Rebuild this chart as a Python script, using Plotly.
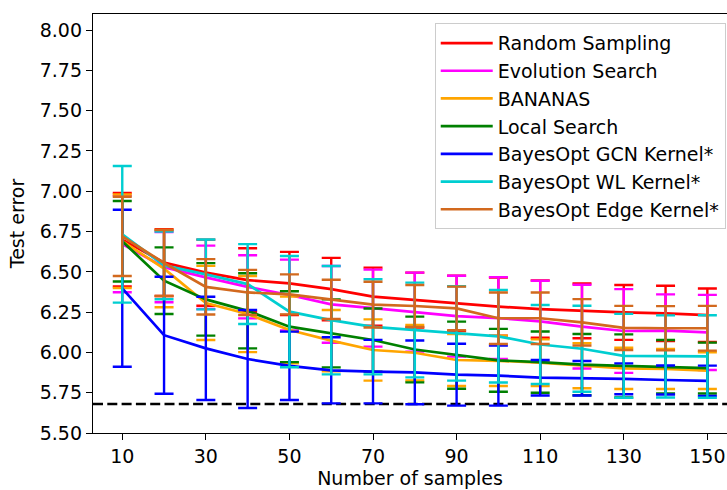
import plotly.graph_objects as go

# Number of samples evaluated
samples = [10, 20, 30, 40, 50, 60, 70, 80, 90, 100, 110, 120, 130, 140, 150]

# Mean test error and one-std error per method
random_mean = [6.700, 6.557, 6.495, 6.449, 6.428, 6.393, 6.346, 6.325, 6.304, 6.284, 6.269, 6.258, 6.248, 6.242, 6.231]
random_std = [0.290, 0.207, 0.205, 0.197, 0.196, 0.194, 0.180, 0.170, 0.172, 0.180, 0.178, 0.170, 0.170, 0.172, 0.166]

evolution_mean = [6.673, 6.529, 6.466, 6.407, 6.356, 6.298, 6.275, 6.250, 6.225, 6.213, 6.193, 6.160, 6.133, 6.135, 6.124]
evolution_std = [0.300, 0.218, 0.197, 0.196, 0.220, 0.238, 0.239, 0.245, 0.251, 0.254, 0.252, 0.260, 0.260, 0.225, 0.233]

bananas_mean = [6.690, 6.520, 6.307, 6.238, 6.139, 6.073, 6.015, 5.998, 5.953, 5.948, 5.936, 5.918, 5.901, 5.897, 5.887]
bananas_std = [0.290, 0.240, 0.230, 0.236, 0.207, 0.190, 0.190, 0.172, 0.161, 0.156, 0.145, 0.140, 0.128, 0.124, 0.114]

local_mean = [6.690, 6.445, 6.329, 6.258, 6.160, 6.118, 6.077, 6.018, 5.983, 5.951, 5.940, 5.924, 5.916, 5.911, 5.903]
local_std = [0.250, 0.207, 0.225, 0.233, 0.220, 0.211, 0.196, 0.204, 0.208, 0.195, 0.190, 0.190, 0.196, 0.166, 0.158]

gcn_mean = [6.398, 6.107, 6.025, 5.959, 5.917, 5.889, 5.881, 5.876, 5.862, 5.856, 5.843, 5.840, 5.836, 5.829, 5.824]
gcn_std = [0.487, 0.363, 0.320, 0.304, 0.212, 0.205, 0.197, 0.198, 0.192, 0.186, 0.110, 0.107, 0.096, 0.090, 0.094]

wl_mean = [6.733, 6.540, 6.484, 6.424, 6.253, 6.200, 6.159, 6.139, 6.118, 6.100, 6.049, 6.023, 5.979, 5.975, 5.975]
wl_std = [0.424, 0.210, 0.217, 0.248, 0.345, 0.336, 0.295, 0.294, 0.293, 0.287, 0.245, 0.267, 0.260, 0.255, 0.256]

edge_mean = [6.720, 6.555, 6.407, 6.372, 6.360, 6.329, 6.297, 6.288, 6.273, 6.212, 6.212, 6.187, 6.152, 6.150, 6.150]
edge_std = [0.246, 0.205, 0.172, 0.140, 0.124, 0.122, 0.142, 0.130, 0.135, 0.160, 0.160, 0.144, 0.137, 0.137, 0.139]

# Best achievable test error in the search space
optimum = 5.68

methods = [
    ("Random Sampling", random_mean, random_std, "#ff0000"),
    ("Evolution Search", evolution_mean, evolution_std, "#ff00ff"),
    ("BANANAS", bananas_mean, bananas_std, "#ffa500"),
    ("Local Search", local_mean, local_std, "#008000"),
    ("BayesOpt GCN Kernel*", gcn_mean, gcn_std, "#0000ff"),
    ("BayesOpt WL Kernel*", wl_mean, wl_std, "#00ced1"),
    ("BayesOpt Edge Kernel*", edge_mean, edge_std, "#d2691e"),
]

y_ticks = [5.5 + 0.25 * i for i in range(11)]
x_ticks = [10, 30, 50, 70, 90, 110, 130, 150]

FONT = "DejaVu Sans"
FS = 19

fig = go.Figure()

fig.add_trace(go.Scatter(
    x=[3, 160], y=[optimum, optimum], mode="lines",
    line=dict(color="black", width=2.7, dash="10px,4.3px"),
    showlegend=False, hoverinfo="skip",
))

for name, mean, std, color in methods:
    fig.add_trace(go.Scatter(
        x=samples, y=mean, name=name, mode="lines",
        line=dict(color=color, width=2.7),
        error_y=dict(type="data", array=std, visible=True,
                     color=color, thickness=2.4, width=9.5),
    ))

fig.update_layout(
    width=727, height=490,
    margin=dict(l=93, r=0, t=14, b=57),
    plot_bgcolor="white", paper_bgcolor="white",
    font=dict(family=FONT, size=FS, color="black"),
    showlegend=True,
    legend=dict(
        x=0.539, y=0.978, xanchor="left", yanchor="top",
        bgcolor="rgba(255,255,255,0.8)", bordercolor="#cccccc", borderwidth=1,
        font=dict(family=FONT, size=FS, color="black"),
        itemwidth=52,
    ),
    xaxis=dict(
        range=[3, 154.7], tickvals=x_ticks,
        showline=True, linecolor="black", linewidth=1.4, mirror=True,
        ticks="outside", ticklen=6, tickwidth=1.4, tickcolor="black",
        showgrid=False, zeroline=False,
        title=dict(text="Number of samples", standoff=5,
                   font=dict(family=FONT, size=FS)),
        tickfont=dict(family=FONT, size=FS),
    ),
    yaxis=dict(
        range=[5.5, 8.1], tickvals=y_ticks, tickformat=".2f",
        showline=True, linecolor="black", linewidth=1.4, mirror=False,
        ticks="outside", ticklen=6, tickwidth=1.4, tickcolor="black",
        showgrid=False, zeroline=False,
        title=dict(text="Test error", standoff=10,
                   font=dict(family=FONT, size=FS)),
        tickfont=dict(family=FONT, size=FS),
    ),
)

fig.write_html("out.html")
